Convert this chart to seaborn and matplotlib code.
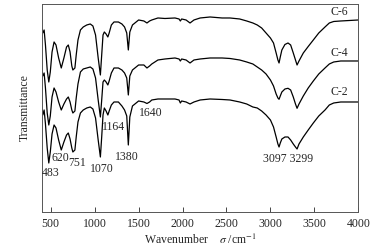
import pandas as pd
import seaborn as sns
import matplotlib.pyplot as plt

# wavenumber grid (cm-1) shared by the three spectra
wavenumber = [410, 425, 440, 460, 478, 495, 515, 538, 560, 590, 620, 650, 680, 700, 720, 740,
              752, 775, 790, 810, 838, 870, 910, 950, 980, 1010, 1040, 1065, 1080, 1095, 1110,
              1130, 1150, 1165, 1190, 1220, 1270, 1310, 1340, 1365, 1383, 1400, 1430, 1500, 1560,
              1595, 1625, 1650, 1720, 1800, 1914, 1960, 1975, 1990, 2040, 2085, 2130, 2200, 2313,
              2450, 2540, 2650, 2730, 2800, 2850, 2900, 2950, 3000, 3035, 3065, 3085, 3098, 3112,
              3130, 3165, 3200, 3230, 3260, 3285, 3303, 3325, 3374, 3430, 3488, 3550, 3621, 3670,
              3720, 3800, 4000]

# transmittance (arbitrary units, curves already stacked)
c6 = [179, 182, 167, 142, 130, 140, 160, 170, 167, 154, 144, 154, 165, 167, 160, 146,
      142, 144, 157, 172, 182, 185, 187, 188, 186, 177, 154, 137, 157, 177, 180,
      178, 175, 179, 187, 190, 190, 188, 185, 179, 162, 180, 187, 192, 191,
      189, 191, 192, 194, 193.5, 194, 193, 191, 193, 192, 189, 192, 194, 195,
      194, 194, 193, 191, 189, 187, 184, 179, 174, 169, 159, 152, 149, 155,
      162, 167.5, 169, 167, 159, 152, 147, 151, 159, 165.5, 172, 179, 185, 189,
      190.5, 191, 192]

c4 = [136, 139, 124, 99, 87, 96, 115, 124, 120, 110, 102, 108, 113, 115, 110, 102,
      99, 101, 114, 128, 140, 143, 144, 145, 143, 134, 112, 95, 112, 130, 132,
      130, 127, 131, 139, 144, 144, 142, 139, 134, 117, 136, 142, 147, 147,
      144, 146, 148, 152, 153, 154, 153, 151, 153, 152, 149, 152, 153, 154,
      154, 153.5, 152, 150, 148, 145, 142, 138, 132, 126, 118, 114, 112.7, 116,
      120, 123, 123.7, 122, 115, 108, 103.7, 108, 116, 124, 131, 138, 144, 148,
      150, 151, 151]

c2 = [97, 102, 88, 64, 49, 60, 78, 87, 84, 72, 62, 70, 77, 79, 73, 64,
      60, 62, 75, 90, 99, 102, 104, 105, 103, 94, 72, 55, 75, 97, 104,
      101, 97, 101, 107, 110, 110, 106, 102, 96, 67, 95, 106, 111, 110,
      108.5, 110, 112, 113, 113, 113, 112, 109, 111, 110, 108, 110, 112, 113,
      112.5, 112, 110, 108, 105, 104, 101, 97, 92, 85, 75, 68, 65, 69,
      73, 75, 75, 72, 68, 65, 63, 68, 75, 82, 89, 96, 102, 107,
      109, 110, 110]

sample_names = ['C-6', 'C-4', 'C-2']
sample_label_y = [199.7, 159, 120]

peak_labels = ['483', '620', '751', '1070', '1380', '1164', '1640', '3097 3299']
peak_label_x = [500, 615, 801, 1086, 1370, 1218, 1639, 3203]
peak_label_y = [39.3, 54.3, 49.3, 42.7, 55.3, 85.3, 98.7, 52.7]

df = pd.concat([
    pd.DataFrame({'wavenumber': wavenumber, 'T': vals, 'sample': name})
    for name, vals in zip(sample_names, [c6, c4, c2])
])

sns.set_theme(style='ticks')
plt.rcParams['font.family'] = ['Liberation Serif', 'DejaVu Serif']
plt.rcParams['mathtext.fontset'] = 'stix'

fig = plt.figure(figsize=(3.82, 2.49), dpi=100)
ax = fig.add_axes([0.1107, 0.1486, 0.8273, 0.8354])

sns.lineplot(data=df, x='wavenumber', y='T', hue='sample', units='sample',
             estimator=None, sort=False, palette=['black'] * 3, linewidth=0.9,
             legend=False, ax=ax)

for name, y in zip(sample_names, sample_label_y):
    ax.text(3784, y, name, ha='center', va='center', fontsize=8.5)

for lab, x, y in zip(peak_labels, peak_label_x, peak_label_y):
    ax.text(x, y, lab, ha='center', va='center', fontsize=8.5)

ax.set_xlim(404, 4000)
ax.set_ylim(0, 208)
ax.set_xticks([500, 1000, 1500, 2000, 2500, 3000, 3500, 4000])
ax.set_yticks([])
ax.tick_params(axis='x', direction='in', length=3.5, width=0.7, color='#444444',
               labelsize=8.5, pad=4, top=False)
for sp in ax.spines.values():
    sp.set_visible(True)
    sp.set_linewidth(0.7)
    sp.set_color('#555555')

ax.set_xlabel(r'Wavenumber    $\sigma$ /cm$^{-1}$', fontsize=8.5, labelpad=2)
ax.set_ylabel('Transmittance', fontsize=8.5, labelpad=8)

fig.savefig('out.png', dpi=100)
